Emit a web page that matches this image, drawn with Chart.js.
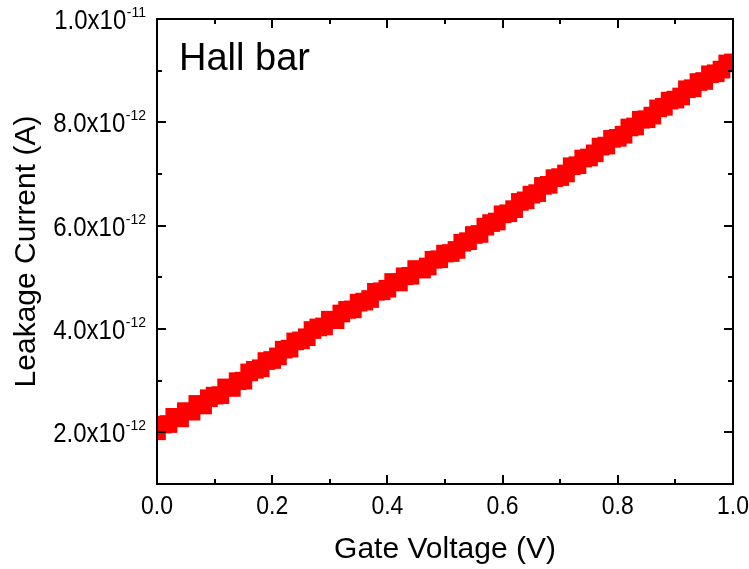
<!DOCTYPE html>
<html><head><meta charset="utf-8">
<script src="https://cdn.jsdelivr.net/npm/chart.js@4.4.1/dist/chart.umd.min.js"></script>
<style>html,body{margin:0;padding:0;background:#fff;overflow:hidden;} #wrap{width:749px;height:569px;}</style>
</head><body><div id="wrap"><canvas id="c" width="749" height="569"></canvas></div>
<script>
// Gate voltage (V)
const gateVoltage = [
 0.00,0.01,0.02,0.03,0.04,0.05,0.06,0.07,0.08,0.09,
 0.10,0.11,0.12,0.13,0.14,0.15,0.16,0.17,0.18,0.19,
 0.20,0.21,0.22,0.23,0.24,0.25,0.26,0.27,0.28,0.29,
 0.30,0.31,0.32,0.33,0.34,0.35,0.36,0.37,0.38,0.39,
 0.40,0.41,0.42,0.43,0.44,0.45,0.46,0.47,0.48,0.49,
 0.50,0.51,0.52,0.53,0.54,0.55,0.56,0.57,0.58,0.59,
 0.60,0.61,0.62,0.63,0.64,0.65,0.66,0.67,0.68,0.69,
 0.70,0.71,0.72,0.73,0.74,0.75,0.76,0.77,0.78,0.79,
 0.80,0.81,0.82,0.83,0.84,0.85,0.86,0.87,0.88,0.89,
 0.90,0.91,0.92,0.93,0.94,0.95,0.96,0.97,0.98,0.99,
 1.00
];
// Leakage current, in units of 1e-12 A
const leakageCurrent = [
 2.02,2.15,2.16,2.30,2.27,2.41,2.40,2.55,2.52,2.66,
 2.71,2.72,2.87,2.86,2.99,3.00,3.16,3.21,3.24,3.38,
 3.40,3.47,3.60,3.62,3.76,3.78,3.84,3.98,4.03,4.05,
 4.18,4.17,4.30,4.37,4.38,4.51,4.53,4.58,4.72,4.73,
 4.78,4.91,4.90,5.02,5.03,5.16,5.15,5.21,5.34,5.35,
 5.46,5.47,5.53,5.67,5.70,5.82,5.84,5.98,6.05,6.08,
 6.22,6.24,6.32,6.46,6.49,6.60,6.63,6.77,6.79,6.92,
 6.94,7.01,7.15,7.17,7.30,7.32,7.40,7.53,7.55,7.68,
 7.70,7.76,7.90,7.92,8.05,8.06,8.13,8.27,8.30,8.42,
 8.44,8.50,8.64,8.66,8.78,8.80,8.93,8.95,9.02,9.14,
 9.16
];
const xMajorTicks = [0, 0.2, 0.4, 0.6, 0.8, 1.0];
const xTickLabels = ['0.0', '0.2', '0.4', '0.6', '0.8', '1.0'];
const xMinorTicks = [0.1, 0.3, 0.5, 0.7, 0.9];
const yMajorTicks = [2, 4, 6, 8, 10];
const yTickMantissa = ['2.0x10', '4.0x10', '6.0x10', '8.0x10', '1.0x10'];
const yTickExponent = ['-12', '-12', '-12', '-12', '-11'];
const yMinorTicks = [3, 5, 7, 9];
const xTitle = 'Gate Voltage (V)';
const yTitle = 'Leakage Current (A)';
const annotation = 'Hall bar';

const FONT = '"Liberation Sans", Arial, Helvetica, sans-serif';

function stretchText(ctx, text, x, y, align, sy) {
  ctx.save();
  ctx.translate(x, y);
  ctx.scale(1, sy);
  ctx.textAlign = align;
  ctx.textBaseline = 'alphabetic';
  ctx.fillText(text, 0, 0);
  ctx.restore();
}

const framePlugin = {
  id: 'originFrame',
  afterDatasetsDraw(chart) {
    const ctx = chart.ctx;
    const a = chart.chartArea;
    const xs = chart.scales.x, ys = chart.scales.y;
    ctx.save();
    ctx.strokeStyle = '#000';
    ctx.fillStyle = '#000';
    ctx.lineWidth = 2;
    ctx.lineCap = 'butt';
    // frame
    ctx.strokeRect(a.left, a.top, a.right - a.left, a.bottom - a.top);
    // ticks (inward)
    const MAJ = 9, MIN = 5;
    ctx.beginPath();
    xMajorTicks.forEach(v => {
      const px = Math.round(xs.getPixelForValue(v));
      ctx.moveTo(px, a.bottom); ctx.lineTo(px, a.bottom - MAJ);
      ctx.moveTo(px, a.top); ctx.lineTo(px, a.top + MAJ);
    });
    xMinorTicks.forEach(v => {
      const px = Math.round(xs.getPixelForValue(v));
      ctx.moveTo(px, a.bottom); ctx.lineTo(px, a.bottom - MIN);
      ctx.moveTo(px, a.top); ctx.lineTo(px, a.top + MIN);
    });
    yMajorTicks.forEach(v => {
      const py = Math.round(ys.getPixelForValue(v));
      ctx.moveTo(a.left, py); ctx.lineTo(a.left + MAJ, py);
      ctx.moveTo(a.right, py); ctx.lineTo(a.right - MAJ, py);
    });
    yMinorTicks.forEach(v => {
      const py = Math.round(ys.getPixelForValue(v));
      ctx.moveTo(a.left, py); ctx.lineTo(a.left + MIN, py);
      ctx.moveTo(a.right, py); ctx.lineTo(a.right - MIN, py);
    });
    ctx.stroke();

    // x tick labels
    ctx.font = '23px ' + FONT;
    xMajorTicks.forEach((v, i) => {
      const px = xs.getPixelForValue(v);
      stretchText(ctx, xTickLabels[i], px, a.bottom + 30, 'center', 1.12);
    });
    // y tick labels with superscript exponent
    yMajorTicks.forEach((v, i) => {
      const py = ys.getPixelForValue(v);
      const rightEdge = a.left - 11;
      ctx.font = '14px ' + FONT;
      const ew = ctx.measureText(yTickExponent[i]).width;
      ctx.textAlign = 'left';
      ctx.textBaseline = 'alphabetic';
      ctx.fillText(yTickExponent[i], rightEdge - ew, py - 2);
      ctx.font = '24px ' + FONT;
      stretchText(ctx, yTickMantissa[i], rightEdge - ew - 0.5, py + 10, 'right', 1.12);
    });
    // axis titles
    ctx.font = '30px ' + FONT;
    ctx.textAlign = 'center';
    ctx.textBaseline = 'alphabetic';
    ctx.fillText(xTitle, (a.left + a.right) / 2, 558);
    ctx.save();
    ctx.translate(35, (a.top + a.bottom) / 2);
    ctx.rotate(-Math.PI / 2);
    ctx.fillText(yTitle, 0, 0);
    ctx.restore();
    // annotation
    ctx.font = '38px ' + FONT;
    ctx.textAlign = 'left';
    ctx.fillText(annotation, a.left + 22, 70);
    ctx.restore();
  }
};

const points = gateVoltage.map((v, i) => ({ x: v, y: leakageCurrent[i] }));

new Chart(document.getElementById('c'), {
  type: 'scatter',
  data: {
    datasets: [{
      label: 'Leakage Current',
      data: points,
      pointStyle: 'rect',
      pointRadius: 12.5,
      pointHoverRadius: 12.5,
      backgroundColor: '#ff0000',
      borderColor: '#ff0000',
      borderWidth: 0,
      clip: 0
    }]
  },
  options: {
    responsive: false,
    animation: false,
    devicePixelRatio: 1,
    layout: { padding: { left: 0, top: 19, right: 16, bottom: 0 } },
    plugins: { legend: { display: false }, tooltip: { enabled: false } },
    events: [],
    scales: {
      x: {
        type: 'linear', min: 0, max: 1,
        ticks: { display: false },
        grid: { display: false, drawTicks: false },
        border: { display: false },
        afterFit: s => { s.height = 85; }
      },
      y: {
        type: 'linear', min: 1, max: 10,
        ticks: { display: false },
        grid: { display: false, drawTicks: false },
        border: { display: false },
        afterFit: s => { s.width = 157; }
      }
    }
  },
  plugins: [framePlugin]
});
</script>
</body></html>
